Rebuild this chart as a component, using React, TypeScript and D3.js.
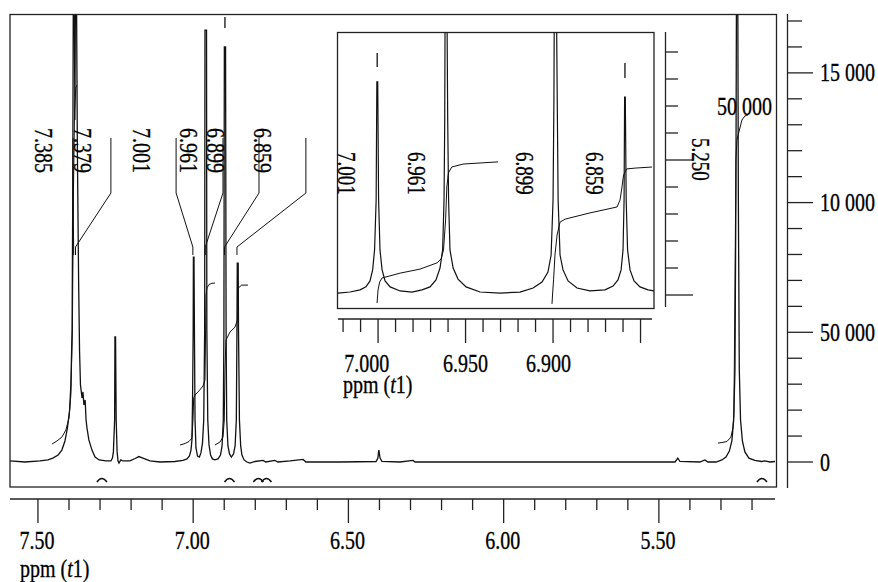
import React from 'react';
import * as d3 from 'd3';

type P = [number, number];

// ---------- main spectrum: [ppm, intensity (thousands)] ----------
const mainSpectrum: P[] = [
  [7.590, 0.4], [7.542, 0], [7.493, 0.4], [7.468, 0.8], [7.452, 1.5], [7.435, 2.7], [7.423, 4.6],
  [7.413, 8.1], [7.405, 13.1], [7.398, 20.0], [7.394, 29.7], [7.390, 50.9], [7.388, 101], [7.386, 185],
  [7.383, 185], [7.381, 131.8], [7.379, 185], [7.376, 185], [7.373, 120], [7.369, 70], [7.366, 43],
  [7.363, 29.7], [7.358, 24.7], [7.355, 27], [7.352, 22], [7.348, 23.9], [7.345, 16.2], [7.342, 13.1],
  [7.336, 8.5], [7.326, 4.6], [7.316, 1.9], [7.303, 0.8], [7.281, 0.4], [7.265, 0.4],
  [7.260, 1.5], [7.257, 3.9], [7.253, 16.2], [7.252, 48.2], [7.250, 48.2], [7.248, 16.2], [7.245, 3.9],
  [7.242, 0.4], [7.239, -0.4], [7.233, 0.8], [7.226, 0.4], [7.204, 0.4], [7.187, 1.35], [7.175, 2.1],
  [7.162, 1.5], [7.139, 0.4], [7.107, 0], [7.059, 0.2], [7.033, 0.6],
  [7.020, 1.2], [7.012, 2.3], [7.007, 4.6], [7.004, 8.5], [7.002, 23.9], [7.000, 50.9], [6.9993, 79],
  [6.9974, 79], [6.996, 50.9], [6.994, 16.2], [6.991, 5.4], [6.986, 2.3], [6.980, 1.9], [6.975, 3.5],
  [6.970, 7.3], [6.966, 16.2], [6.963, 50.9], [6.962, 166.5], [6.957, 166.5], [6.956, 50.9], [6.953, 16.2],
  [6.949, 6.6], [6.944, 2.7], [6.938, 1.2], [6.930, 0.8], [6.920, 1.2], [6.912, 2.7], [6.907, 6.2],
  [6.903, 16.2], [6.901, 50.9], [6.8996, 160], [6.8957, 160], [6.894, 50.9], [6.892, 16.2], [6.888, 6.2],
  [6.883, 3.1], [6.877, 1.9], [6.870, 3.1], [6.865, 6.2], [6.861, 16.2], [6.859, 50.9], [6.858, 76.7],
  [6.855, 76.7], [6.854, 50.9], [6.851, 16.2], [6.847, 6.2], [6.843, 2.7], [6.836, 0.8], [6.827, 0],
  [6.817, -0.4], [6.801, 0.2], [6.775, 0.6], [6.766, 0], [6.737, 0.6], [6.727, 0], [6.688, 0.4],
  [6.646, 1.0], [6.637, 0], [6.527, 0], [6.411, 0.2], [6.405, 1.5], [6.402, 4.6], [6.398, 1.5],
  [6.392, 0.2], [6.334, 0], [6.292, 0.6], [6.285, 0], [6.012, 0], [5.690, 0], [5.448, 0], [5.439, 1.5],
  [5.432, 0.2], [5.368, 0], [5.352, 0.8], [5.342, 0], [5.316, 0], [5.297, 0.8], [5.284, 1.9],
  [5.273, 4.2], [5.265, 8.1], [5.259, 16.2], [5.255, 35.5], [5.252, 101], [5.250, 185], [5.246, 185],
  [5.244, 101], [5.241, 35.5], [5.237, 16.2], [5.231, 8.1], [5.223, 3.9], [5.210, 1.5], [5.191, 0.6],
  [5.169, 0.2], [5.159, 0.4], [5.142, 0], [5.126, 0.2],
];

const mainIntegralA: P[] = [
  [7.455, 6.9], [7.439, 8.1], [7.423, 9.6], [7.410, 12.3], [7.400, 17.0], [7.394, 25.8],
  [7.389, 50.9], [7.386, 101], [7.382, 135.7], [7.378, 144.2], [7.375, 145.2],
];
const mainIntegralB: P[] = [
  [7.0425, 6.55], [7.026, 7.13], [7.0135, 7.9], [7.0039, 9.25], [7.0006, 16.2], [6.9984, 24.7],
  [6.9942, 25.8], [6.9813, 27.4], [6.9684, 29.3], [6.962, 31.6], [6.960, 50.9], [6.9588, 64.4],
  [6.9556, 67.1], [6.9491, 68.4], [6.9395, 68.9], [6.9298, 69.0],
];
const mainIntegralC: P[] = [
  [6.9298, 6.55], [6.9137, 7.7], [6.904, 9.6], [6.8998, 16.2], [6.8976, 35.5], [6.8944, 47.0],
  [6.8815, 50.1], [6.8654, 52.0], [6.8573, 54.7], [6.8557, 62.5], [6.8541, 67.1], [6.8438, 68.2],
  [6.8235, 68.2],
];
const mainIntegralD: P[] = [
  [5.3098, 7.3], [5.297, 7.5], [5.2809, 7.9], [5.268, 9.6], [5.2616, 13.1], [5.2584, 18.9],
  [5.2551, 62.5], [5.2519, 116.4], [5.2487, 124.1], [5.2423, 127.2], [5.2326, 131.8], [5.223, 133.4],
  [5.2133, 133.8],
];

const mainPeakLabels = ['7.385', '7.379', '7.001', '6.961', '6.899', '6.859'];
const mainPeakPpm = [7.385, 7.379, 7.001, 6.961, 6.899, 6.859];
const mainLeaderPpm = [7.387, 7.265, 7.055, 6.904, 6.788, 6.637];
const mainLabelPpm = [7.482, 7.357, 7.1665, 7.0135, 6.9282, 6.7768];
// [ppm, from, to] (thousands)
const mainMarkers: [number, number, number][] = [[6.8977, 167.3, 171.5]];
const integralMarkPpm = [7.294, 6.883, 6.790, 6.764, 5.168];
const bigPeakLabel = '50 000';
const bigPeakPpm = 5.25;

const rightTickValues = [0, 50, 100, 150];
const rightTickLabels = ['0', '50 000', '10 000', '15 000'];

// ---------- inset: [ppm, intensity (arb.)] ----------
const insetSpectrum: P[] = [
  [7.0229, 0.07], [7.0160, 0.11], [7.0103, 0.19], [7.0069, 0.30], [7.0046, 0.52], [7.0031, 0.93],
  [7.0020, 1.67], [7.0011, 3.52], [7.0007, 7.89], [7.0002, 7.89], [6.9997, 3.52], [6.9989, 1.67],
  [6.9977, 0.93], [6.9960, 0.52], [6.9931, 0.30], [6.9874, 0.15], [6.9806, 0.11], [6.9749, 0.19],
  [6.9703, 0.30], [6.9669, 0.56], [6.9646, 1.00], [6.9631, 1.67], [6.9623, 3.52], [6.9619, 6.48],
  [6.9617, 10.4], [6.9606, 10.4], [6.9602, 6.48], [6.9597, 3.52], [6.9589, 1.67], [6.9571, 1.00],
  [6.9543, 0.59], [6.9497, 0.30], [6.9417, 0.11], [6.9303, 0.07], [6.9189, 0.11], [6.9114, 0.26],
  [6.9063, 0.48], [6.9029, 0.85], [6.9011, 1.48], [6.9000, 3.52], [6.8995, 7.22], [6.8993, 10.4],
  [6.8980, 10.4], [6.8976, 7.22], [6.8971, 3.52], [6.8960, 1.48], [6.8943, 0.93], [6.8914, 0.52],
  [6.8863, 0.26], [6.8789, 0.15], [6.8703, 0.19], [6.8657, 0.33], [6.8629, 0.56], [6.8611, 0.93],
  [6.8600, 1.67], [6.8594, 3.52], [6.8591, 7.33], [6.8587, 7.33], [6.8582, 3.52], [6.8574, 1.67],
  [6.8560, 0.93], [6.8537, 0.52], [6.8503, 0.30], [6.8457, 0.19], [6.8423, 0.15],
];
const insetIntegralA: P[] = [
  [7.0006, -0.3], [7.0000, 0.19], [6.9991, 0.48], [6.9977, 0.63], [6.9874, 0.81], [6.9760, 0.96],
  [6.9663, 1.19], [6.9640, 1.33], [6.9626, 1.67], [6.9614, 2.78], [6.9607, 4.0], [6.9598, 4.52],
  [6.9579, 4.74], [6.9514, 4.85], [6.9417, 4.89], [6.9314, 4.93],
];
const insetIntegralB: P[] = [
  [6.9006, -0.33], [6.9003, 0], [6.8997, 0.56], [6.8989, 1.48], [6.8977, 2.22], [6.8960, 2.70],
  [6.8931, 2.81], [6.8789, 3.04], [6.8634, 3.26], [6.8617, 3.52], [6.8606, 4.0], [6.8597, 4.44],
  [6.8579, 4.67], [6.8531, 4.70], [6.8434, 4.74],
];
const insetPeakLabels = ['7.001', '6.961', '6.899', '6.859'];
const insetPeakPpm = [7.001, 6.961, 6.899, 6.859];
const insetMarkers: [number, number, number][] = [[7.0005, 8.44, 8.96], [6.8589, 8.04, 8.59]];
const insetTickLabelValues = [7.0, 6.95, 6.9];
const insetTickLabelPpm = [7.0065, 6.95, 6.9026];
const insetRightTickLabels: [number, string][] = [[5, '5.250']];

const FONT = '"Liberation Serif", "Times New Roman", Times, serif';
const INK = '#111';

function Txt(props: { x: number; y: number; rot?: number; size?: number; anchor?: string; children: any }) {
  const { x, y, rot = 0, size = 20, anchor = 'start', children } = props;
  return (
    <text
      transform={`translate(${x},${y}) rotate(${rot}) scale(1,1.27)`}
      fontFamily={FONT}
      fontSize={size}
      textAnchor={anchor as any}
      fill="#000"
      stroke="#000"
      strokeWidth={0.25}
    >
      {children}
    </text>
  );
}

export default function App() {
  // main frame
  const F = { l: 10, t: 14.5, r: 776.5, b: 487 };
  const xM = d3.scaleLinear().domain([7.59, 5.126]).range([10, 775]);
  const yM = d3.scaleLinear().domain([0, 170]).range([462, 21]);
  // inset frame
  const I = { l: 337.5, t: 32.5, r: 654, b: 308.5 };
  const xI = d3.scaleLinear().domain([7.0229, 6.8423]).range([338, 654]);
  const yI = d3.scaleLinear().domain([0, 5]).range([295, 160]);

  const lineM = d3.line<P>().x((d) => xM(d[0])).y((d) => yM(d[1]));
  const lineI = d3.line<P>().x((d) => xI(d[0])).y((d) => yI(d[1]));

  const xTicksMain = d3.range(75, 51, -1).map((v) => v / 10);
  const rightTicks = d3.range(0, 171, 10);
  const xTicksInset = d3.range(702, 684, -1).map((v) => v / 100);
  const insetRightTicks = d3.range(0, 10);

  const fmt2 = d3.format('.2f');
  const fmt3 = d3.format('.3f');

  const mainAxisY = 499;
  const insetAxisY = 319;
  const insetAxisX = 665.5;
  const rightAxisX = 787.5;

  return (
    <svg
      width={878}
      height={582}
      viewBox="0 0 878 582"
      style={{ position: 'absolute', left: 0, top: 0, display: 'block', background: '#fff' }}
    >
      <defs>
        <clipPath id="clipMain">
          <rect x={F.l} y={F.t} width={F.r - F.l} height={F.b - F.t} />
        </clipPath>
        <clipPath id="clipInset">
          <rect x={I.l} y={I.t} width={I.r - I.l} height={I.b - I.t} />
        </clipPath>
      </defs>
      <rect x={0} y={0} width={878} height={582} fill="#fff" />

      {/* main spectrum */}
      <g clipPath="url(#clipMain)" fill="none" stroke={INK}>
        <path d={lineM(mainSpectrum) || ''} strokeWidth={1.3} />
        {[mainIntegralA, mainIntegralB, mainIntegralC, mainIntegralD].map((d, i) => (
          <path key={i} d={lineM(d) || ''} strokeWidth={1} />
        ))}
        {mainMarkers.map((m, i) => (
          <line key={i} x1={xM(m[0])} x2={xM(m[0])} y1={yM(m[1])} y2={yM(m[2])} strokeWidth={1.3} />
        ))}
        {/* leaders */}
        {mainPeakPpm.map((p, i) => {
          const top = xM(mainLeaderPpm[i]);
          const pk = xM(p);
          return (
            <path key={i} d={`M${top},138 L${top},193 L${pk},247 L${pk},255`} strokeWidth={1} />
          );
        })}
        {/* integral value marks */}
        {integralMarkPpm.map((p, i) => {
          const cx = xM(p);
          return <path key={i} d={`M${cx - 5},482 Q${cx},475 ${cx + 5},482`} strokeWidth={1.6} />;
        })}
      </g>

      {/* main peak labels */}
      {mainPeakLabels.map((t, i) => {
        const cx = xM(mainLabelPpm[i]);
        return (
          <Txt key={i} x={cx - 8.5} y={128} rot={90}>
            {t}
          </Txt>
        );
      })}
      <Txt x={xM(bigPeakPpm) - 19.5} y={115}>
        {bigPeakLabel}
      </Txt>

      {/* main frame */}
      <rect x={F.l} y={F.t} width={F.r - F.l} height={F.b - F.t} fill="none" stroke="#222" strokeWidth={1.3} />

      {/* main bottom axis */}
      <line x1={10} x2={775} y1={mainAxisY} y2={mainAxisY} stroke="#222" strokeWidth={1.3} />
      {xTicksMain.map((v, i) => {
        const major = Math.round(v * 10) % 5 === 0;
        const x = xM(v);
        return (
          <g key={i}>
            <line x1={x} x2={x} y1={mainAxisY} y2={major ? 523 : 510} stroke="#222" strokeWidth={1.3} />
            {major && (
              <Txt x={x - 1} y={549} anchor="middle">
                {fmt2(v)}
              </Txt>
            )}
          </g>
        );
      })}
      <Txt x={20} y={577}>
        ppm (<tspan fontStyle="italic">t</tspan>1)
      </Txt>

      {/* right axis */}
      <line x1={rightAxisX} x2={rightAxisX} y1={14} y2={488} stroke="#222" strokeWidth={1.3} />
      {rightTicks.map((v, i) => {
        const major = v % 50 === 0;
        const y = yM(v);
        return (
          <line key={i} x1={rightAxisX} x2={major ? 813 : 802} y1={y} y2={y} stroke="#222" strokeWidth={1.3} />
        );
      })}
      {rightTickValues.map((v, i) => (
        <Txt key={i} x={820} y={yM(v) + 8.5}>
          {rightTickLabels[i]}
        </Txt>
      ))}

      {/* inset */}
      <rect x={I.l} y={I.t} width={I.r - I.l} height={I.b - I.t} fill="#fff" stroke="#222" strokeWidth={1.3} />
      <g clipPath="url(#clipInset)" fill="none" stroke={INK}>
        <path d={lineI(insetSpectrum) || ''} strokeWidth={1.2} />
        {[insetIntegralA, insetIntegralB].map((d, i) => (
          <path key={i} d={lineI(d) || ''} strokeWidth={1} />
        ))}
        {insetMarkers.map((m, i) => (
          <line key={i} x1={xI(m[0])} x2={xI(m[0])} y1={yI(m[1])} y2={yI(m[2])} strokeWidth={1.3} />
        ))}
      </g>
      {insetPeakLabels.map((t, i) => {
        const cx = xI(insetPeakPpm[i]) - 30;
        return (
          <Txt key={i} x={cx - 8.5} y={152} rot={90} size={19}>
            {t}
          </Txt>
        );
      })}

      {/* inset bottom axis */}
      <line x1={338} x2={652} y1={insetAxisY} y2={insetAxisY} stroke="#222" strokeWidth={1.3} />
      {xTicksInset.map((v, i) => {
        const major = Math.round(v * 100) % 5 === 0;
        const x = xI(v);
        return <line key={i} x1={x} x2={x} y1={insetAxisY} y2={major ? 343 : 332} stroke="#222" strokeWidth={1.3} />;
      })}
      {insetTickLabelValues.map((v, i) => (
        <Txt key={i} x={xI(insetTickLabelPpm[i])} y={372} anchor="middle">
          {fmt3(v)}
        </Txt>
      ))}
      <Txt x={343} y={393}>
        ppm (<tspan fontStyle="italic">t</tspan>1)
      </Txt>

      {/* inset right axis */}
      <line x1={insetAxisX} x2={insetAxisX} y1={32} y2={307} stroke="#222" strokeWidth={1.3} />
      {insetRightTicks.map((v, i) => {
        const major = v % 5 === 0;
        const y = yI(v);
        return <line key={i} x1={insetAxisX} x2={major ? 693 : 678} y1={y} y2={y} stroke="#222" strokeWidth={1.3} />;
      })}
      {insetRightTickLabels.map(([v, t], i) => (
        <Txt key={i} x={692} y={yI(v) - 22} rot={90} size={19}>
          {t}
        </Txt>
      ))}
    </svg>
  );
}
